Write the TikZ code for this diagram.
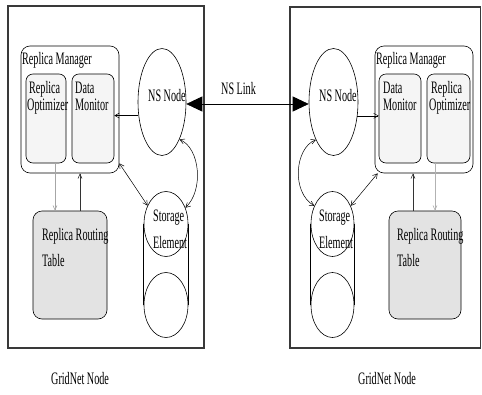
\documentclass[tikz,border=0pt]{standalone}
\usepackage{fontspec}
\setmainfont[FakeStretch=0.58]{Liberation Serif}
\usetikzlibrary{arrows.meta,shapes.geometric}
\begin{document}
\begin{tikzpicture}[x=1pt,y=-1pt,
  outer/.style={draw=gray!45!black,line width=1.1pt,inner sep=0pt},
  rmbox/.style={draw,rounded corners=9pt,inner sep=0pt,line width=0.6pt},
  inbox/.style={draw,fill=gray!8,rounded corners=7pt,inner sep=0pt,line width=0.6pt},
  tbox/.style={draw,fill=gray!22,rounded corners=9pt,inner sep=0pt,line width=0.6pt},
  ell/.style={ellipse,draw,inner sep=0pt,line width=0.6pt},
  txt/.style={font=\fontsize{17.5}{17.5}\selectfont,inner sep=0pt,anchor=base west},
  arr/.style={-{Straight Barb[length=4.5pt,width=5pt]},line width=0.5pt},
  darr/.style={{Straight Barb[length=4.5pt,width=5pt]}-{Straight Barb[length=4.5pt,width=5pt]},line width=0.5pt},
  garr/.style={-{Straight Barb[length=4.5pt,width=4pt]},line width=0.6pt,draw=#1}
]
\useasboundingbox (0,0) rectangle (482,394);
% ---------- left GridNet node ----------
\node[outer, minimum width=196pt, minimum height=342pt] (outL) at (106,177) {};
\node[rmbox, minimum width=98pt, minimum height=127pt] (rmL) at (70,109.5) {};
\node[inbox, minimum width=40pt, minimum height=89pt] (optL) at (46,118.5) {};
\node[inbox, minimum width=42pt, minimum height=89pt] (dmL) at (93,118.5) {};
\node[ell, minimum width=48pt, minimum height=107pt] (nsL) at (162,102) {};
\node[ell, minimum width=44pt, minimum height=65pt] (seLt) at (166,224) {};
\node[ell, minimum width=44pt, minimum height=65pt] (seLb) at (166,305) {};
\draw[line width=0.6pt] (seLt.west) -- (seLb.west) (seLt.east) -- (seLb.east);
\node[tbox, minimum width=74pt, minimum height=108pt] (rtL) at (70,265) {};
\node[txt] (tRML) at (22,64) {Replica Manager};
\node[txt] (tOpL1) at (29,93) {Replica};
\node[txt] (tOpL2) at (27,110) {Optimizer};
\node[txt] (tDmL1) at (75,93) {Data};
\node[txt] (tDmL2) at (75,110) {Monitor};
\node[txt] (tNsL) at (148,101) {NS Node};
\node[txt] (tSeL1) at (153,221) {Storage};
\node[txt] (tSeL2) at (153,248) {Element};
\node[txt] (tRtL1) at (42,240) {Replica Routing};
\node[txt] (tRtL2) at (42,266) {Table};
\node[txt] (gL) at (51,384) {GridNet Node};
% ---------- right GridNet node ----------
\node[outer, minimum width=190.5pt, minimum height=341pt] (outR) at (385.25,177.5) {};
\node[ell, minimum width=49pt, minimum height=107pt] (nsR) at (333.5,102) {};
\node[rmbox, minimum width=98pt, minimum height=127pt] (rmR) at (424,109.5) {};
\node[inbox, minimum width=42pt, minimum height=89pt] (dmR) at (400,118.5) {};
\node[inbox, minimum width=43pt, minimum height=89pt] (optR) at (448.5,118.5) {};
\node[ell, minimum width=43pt, minimum height=65pt] (seRt) at (332.5,224) {};
\node[ell, minimum width=43pt, minimum height=65pt] (seRb) at (332.5,305) {};
\draw[line width=0.6pt] (seRt.west) -- (seRb.west) (seRt.east) -- (seRb.east);
\node[tbox, minimum width=72pt, minimum height=108pt] (rtR) at (425,265) {};
\node[txt] (tRMR) at (376,64) {Replica Manager};
\node[txt] (tDmR1) at (383,93) {Data};
\node[txt] (tDmR2) at (383,110) {Monitor};
\node[txt] (tOpR1) at (431,93) {Replica};
\node[txt] (tOpR2) at (429,110) {Optimizer};
\node[txt] (tNsR) at (319,101) {NS Node};
\node[txt] (tSeR1) at (319,221) {Storage};
\node[txt] (tSeR2) at (319,248) {Element};
\node[txt] (tRtR1) at (397,240) {Replica Routing};
\node[txt] (tRtR2) at (397,266) {Table};
\node[txt] (gR) at (358,384) {GridNet Node};
% ---------- NS link ----------
\draw[{Triangle[length=16pt,width=15pt]}-{Triangle[length=16pt,width=15pt]},line width=0.7pt]
  ([yshift=-2pt]nsL.east) -- ([yshift=-2pt]nsR.west);
\node[txt] (tLink) at (221,94) {NS Link};
% ---------- left connectors ----------
\draw[arr] (nsL.210) -- (nsL.210 -| dmL.east);
\draw[garr=gray!70] ([xshift=9pt]optL.south) -- ([xshift=9pt]optL.south |- rtL.north);
\draw[garr=gray!40!black] ([xshift=-13pt]dmL.south |- rtL.north) -- ([xshift=-13pt]dmL.south |- rmL.south);
\draw[darr] ([yshift=10pt]rmL.south east) -- (seLt.135);
\draw[darr] (nsL.-65) .. controls (200,148) and (204,190) .. (seLt.40);
% ---------- right connectors ----------
\draw[arr] (nsR.-30) -- (nsR.-30 -| dmR.west);
\draw[garr=gray!60] ([xshift=-13.5pt]optR.south) -- ([xshift=-13.5pt]optR.south |- rtR.north);
\draw[garr=gray!40!black] ([xshift=13pt]dmR.south |- rtR.north) -- ([xshift=13pt]dmR.south |- rmR.south);
\draw[darr] ([xshift=3pt]rmR.south west) -- (seRt.45);
\draw[darr] (nsR.-115) .. controls (295,148) and (291,192) .. (seRt.135);
\end{tikzpicture}
\end{document}
